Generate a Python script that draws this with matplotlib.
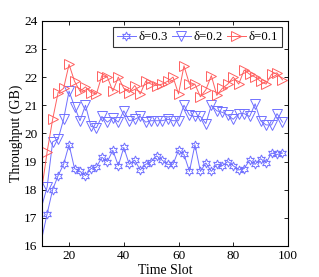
import matplotlib
matplotlib.use("Agg")
import matplotlib.pyplot as plt
import numpy as np

plt.rcParams['font.family'] = ['Liberation Serif', 'DejaVu Serif']

time_slots = list(range(10, 100, 2))

thr_d03 = [16.25, 17.15, 18.0, 18.5, 18.9, 19.6, 18.75, 18.65, 18.5, 18.75, 18.8,
           19.15, 19.0, 19.4, 18.85, 19.5, 18.9, 19.05, 18.7, 18.9, 19.0,
           19.2, 19.05, 18.9, 18.9, 19.4, 19.25, 18.65, 19.6, 18.65, 18.95,
           18.65, 18.9, 18.85, 19.0, 18.85, 18.7, 18.75, 19.05, 18.9, 19.1,
           18.95, 19.3, 19.25, 19.3]

thr_d02 = [17.4, 18.1, 19.7, 19.8, 20.5, 21.5, 20.95, 20.45, 21.0, 20.25, 20.2,
           20.6, 20.4, 20.55, 20.4, 20.8, 20.45, 20.5, 20.6, 20.4, 20.45,
           20.45, 20.45, 20.5, 20.45, 20.45, 21.0, 20.65, 20.6, 20.6, 20.35,
           21.0, 20.8, 20.75, 20.65, 20.5, 20.7, 20.7, 20.6, 21.05, 20.45,
           20.3, 20.3, 20.7, 20.4]

thr_d01 = [18.0, 19.35, 20.5, 21.45, 21.6, 22.45, 21.85, 21.5, 21.65, 21.45, 21.4,
           22.05, 22.0, 21.5, 22.0, 21.6, 21.45, 21.7, 21.4, 21.85, 21.75,
           21.7, 21.75, 21.85, 22.0, 21.4, 22.4, 21.75, 21.75, 21.3, 21.55,
           22.05, 21.35, 21.6, 21.75, 22.0, 21.75, 22.25, 22.1, 22.0, 21.85,
           21.75, 22.1, 22.15, 21.9]

labels = ['δ=0.3', 'δ=0.2', 'δ=0.1']

blue = '#7070ff'
red = '#ff6060'

fig = plt.figure(figsize=(3.19, 2.77), dpi=100)
ax = fig.add_axes([0.1307, 0.112, 0.772, 0.813])

star = (6, 1, 0)
ax.plot(time_slots, thr_d03, color=blue, lw=0.7, marker=star, ms=6.5,
        mfc='none', mec=blue, mew=0.7, markevery=slice(1, None), label=labels[0])
ax.plot(time_slots, thr_d02, color=blue, lw=0.7, marker='v', ms=7,
        mfc='none', mec=blue, mew=0.7, markevery=slice(1, None), label=labels[1])
ax.plot(time_slots, thr_d01, color=red, lw=0.7, marker='>', ms=7,
        mfc='none', mec=red, mew=0.7, markevery=slice(1, None), label=labels[2])

ax.set_xlim(10, 100)
ax.set_ylim(16, 24)
ax.set_xticks([20, 40, 60, 80, 100])
ax.set_yticks(range(16, 25))
ax.tick_params(direction='in', top=True, right=True, labelsize=9.5, length=3,
               width=0.6, pad=3)
for s in ax.spines.values():
    s.set_linewidth(0.8)

ax.set_xlabel('Time Slot', fontsize=10, labelpad=1)
ax.set_ylabel('Throughput (GB)', fontsize=10, labelpad=0.5)

leg = ax.legend(loc='upper right', ncol=3, fontsize=9.2, frameon=True,
                fancybox=False, edgecolor='black', handlelength=1.5,
                handletextpad=0.2, columnspacing=0.3, borderpad=0.3,
                borderaxespad=0.5)
leg.get_frame().set_linewidth(0.8)

fig.savefig('out.png', dpi=100)
